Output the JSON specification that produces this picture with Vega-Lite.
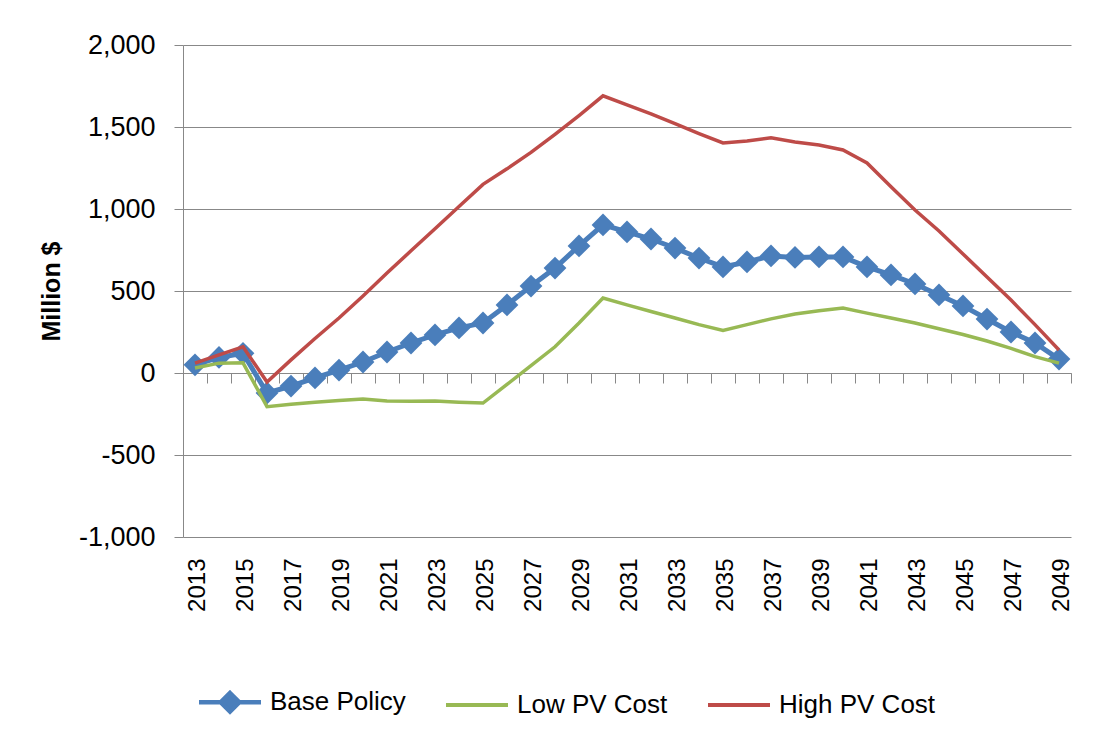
{
  "$schema": "https://vega.github.io/schema/vega-lite/v6.json",
  "width": 888,
  "height": 492,
  "autosize": {"type": "none"},
  "padding": {"left": 183, "top": 45, "right": 30, "bottom": 208},
  "background": "white",
  "config": {
    "font": "Liberation Sans",
    "view": {"stroke": null}
  },
  "data": {
    "values": [
      {"year": 2013, "Base Policy": 50, "Low PV Cost": 30, "High PV Cost": 60},
      {"year": 2014, "Base Policy": 95, "Low PV Cost": 60, "High PV Cost": 110},
      {"year": 2015, "Base Policy": 120, "Low PV Cost": 62, "High PV Cost": 160},
      {"year": 2016, "Base Policy": -122, "Low PV Cost": -205, "High PV Cost": -55},
      {"year": 2017, "Base Policy": -80, "Low PV Cost": -190, "High PV Cost": 80},
      {"year": 2018, "Base Policy": -30, "Low PV Cost": -178, "High PV Cost": 210},
      {"year": 2019, "Base Policy": 18, "Low PV Cost": -168, "High PV Cost": 335},
      {"year": 2020, "Base Policy": 67, "Low PV Cost": -158, "High PV Cost": 470},
      {"year": 2021, "Base Policy": 128, "Low PV Cost": -170, "High PV Cost": 610},
      {"year": 2022, "Base Policy": 183, "Low PV Cost": -172, "High PV Cost": 745},
      {"year": 2023, "Base Policy": 232, "Low PV Cost": -171, "High PV Cost": 880},
      {"year": 2024, "Base Policy": 275, "Low PV Cost": -178, "High PV Cost": 1015},
      {"year": 2025, "Base Policy": 305, "Low PV Cost": -183, "High PV Cost": 1150},
      {"year": 2026, "Base Policy": 415, "Low PV Cost": -70, "High PV Cost": 1245},
      {"year": 2027, "Base Policy": 530, "Low PV Cost": 45, "High PV Cost": 1345},
      {"year": 2028, "Base Policy": 640, "Low PV Cost": 160, "High PV Cost": 1455},
      {"year": 2029, "Base Policy": 775, "Low PV Cost": 305, "High PV Cost": 1570},
      {"year": 2030, "Base Policy": 903, "Low PV Cost": 457, "High PV Cost": 1690},
      {"year": 2031, "Base Policy": 860, "Low PV Cost": 415, "High PV Cost": 1635},
      {"year": 2032, "Base Policy": 817, "Low PV Cost": 375, "High PV Cost": 1580},
      {"year": 2033, "Base Policy": 762, "Low PV Cost": 335, "High PV Cost": 1520},
      {"year": 2034, "Base Policy": 701, "Low PV Cost": 295, "High PV Cost": 1460},
      {"year": 2035, "Base Policy": 647, "Low PV Cost": 260, "High PV Cost": 1403},
      {"year": 2036, "Base Policy": 677, "Low PV Cost": 295, "High PV Cost": 1415},
      {"year": 2037, "Base Policy": 714, "Low PV Cost": 330, "High PV Cost": 1434},
      {"year": 2038, "Base Policy": 705, "Low PV Cost": 360, "High PV Cost": 1409},
      {"year": 2039, "Base Policy": 708, "Low PV Cost": 380, "High PV Cost": 1390},
      {"year": 2040, "Base Policy": 708, "Low PV Cost": 396, "High PV Cost": 1360},
      {"year": 2041, "Base Policy": 647, "Low PV Cost": 365, "High PV Cost": 1281},
      {"year": 2042, "Base Policy": 598, "Low PV Cost": 335, "High PV Cost": 1135},
      {"year": 2043, "Base Policy": 543, "Low PV Cost": 305, "High PV Cost": 994},
      {"year": 2044, "Base Policy": 476, "Low PV Cost": 270, "High PV Cost": 866},
      {"year": 2045, "Base Policy": 409, "Low PV Cost": 235, "High PV Cost": 726},
      {"year": 2046, "Base Policy": 329, "Low PV Cost": 195, "High PV Cost": 585},
      {"year": 2047, "Base Policy": 250, "Low PV Cost": 150, "High PV Cost": 445},
      {"year": 2048, "Base Policy": 183, "Low PV Cost": 100, "High PV Cost": 295},
      {"year": 2049, "Base Policy": 85, "Low PV Cost": 60, "High PV Cost": 140}
    ]
  },
  "transform": [
    {"fold": ["Base Policy", "Low PV Cost", "High PV Cost"], "as": ["series", "value"]}
  ],
  "resolve": {"axis": {"x": "independent"}},
  "encoding": {
    "y": {
      "field": "value", "type": "quantitative",
      "scale": {"domain": [-1000, 2000], "nice": false, "zero": false},
      "axis": {
        "values": [-1000, -500, 0, 500, 1000, 1500, 2000],
        "labelExpr": "replace(format(datum.value, ',.0f'), '\u2212', '-')",
        "grid": true, "gridColor": "#888888", "gridWidth": 1,
        "domainColor": "#888888", "tickColor": "#888888", "tickSize": 9,
        "labelFontSize": 27, "labelColor": "#000000", "labelPadding": 19,
        "title": "Million $", "titleFontSize": 25, "titleFontWeight": "bold",
        "titleColor": "#000000", "titlePadding": 14
      }
    }
  },
  "layer": [
    {
      "transform": [{"filter": "datum.series === 'Base Policy'"}],
      "mark": {"type": "line", "strokeWidth": 5},
      "encoding": {
        "x": {
          "field": "year", "type": "quantitative",
          "scale": {"domain": [2012.5, 2049.5], "nice": false, "zero": false},
          "axis": {
            "orient": "bottom", "title": null,
            "values": [2013, 2015, 2017, 2019, 2021, 2023, 2025, 2027, 2029, 2031, 2033, 2035, 2037, 2039, 2041, 2043, 2045, 2047, 2049],
            "format": "d", "labelAngle": -90, "labelFontSize": 24, "labelColor": "#000000",
            "labelPadding": 21, "labelOffset": 2, "ticks": false, "domain": false, "grid": false,
            "labelFlush": false, "labelOverlap": false
          }
        },
        "color": {
          "field": "series", "type": "nominal",
          "scale": {"domain": ["Base Policy", "Low PV Cost", "High PV Cost"], "range": ["#4A7EBB", "#98B954", "#BE4B48"]},
          "legend": {
            "title": null, "orient": "none", "direction": "horizontal",
            "legendX": 34, "legendY": 644, "padding": 0,
            "symbolType": "stroke", "symbolSize": 3844, "symbolStrokeWidth": 4,
            "labelFontSize": 26, "labelColor": "#000000", "labelOffset": 27, "columnPadding": 32,
            "encode": {
              "symbols": {
                "update": {
                  "shape": {"signal": "datum.value === 'Base Policy' ? 'M-1,0L1,0M0,-0.3L0.3,0L0,0.3L-0.3,0Z' : 'stroke'"},
                  "fill": {"signal": "datum.value === 'Base Policy' ? '#4A7EBB' : 'transparent'"},
                  "strokeWidth": {"signal": "datum.value === 'Base Policy' ? 4.5 : 4"}
                }
              }
            }
          }
        }
      }
    },
    {
      "transform": [{"filter": "datum.series === 'Base Policy'"}],
      "mark": {"type": "point", "shape": "diamond", "size": 520, "filled": true, "color": "#4A7EBB", "opacity": 1},
      "encoding": {
        "x": {"field": "year", "type": "quantitative", "scale": {"domain": [2012.5, 2049.5], "nice": false, "zero": false}, "axis": null}
      }
    },
    {
      "transform": [{"filter": "datum.series !== 'Base Policy'"}],
      "mark": {"type": "line", "strokeWidth": 3.5},
      "encoding": {
        "x": {
          "field": "year", "type": "quantitative",
          "scale": {"domain": [2012.5, 2049.5], "nice": false, "zero": false},
          "axis": {
            "orient": "bottom", "title": null, "offset": -164,
            "values": [2012.5, 2013.5, 2014.5, 2015.5, 2016.5, 2017.5, 2018.5, 2019.5, 2020.5, 2021.5, 2022.5, 2023.5, 2024.5, 2025.5, 2026.5, 2027.5, 2028.5, 2029.5, 2030.5, 2031.5, 2032.5, 2033.5, 2034.5, 2035.5, 2036.5, 2037.5, 2038.5, 2039.5, 2040.5, 2041.5, 2042.5, 2043.5, 2044.5, 2045.5, 2046.5, 2047.5, 2048.5, 2049.5],
            "labels": false, "ticks": true, "tickSize": 10, "tickColor": "#888888",
            "domain": true, "domainColor": "#888888", "grid": false
          }
        },
        "color": {"field": "series", "type": "nominal", "scale": {"domain": ["Base Policy", "Low PV Cost", "High PV Cost"], "range": ["#4A7EBB", "#98B954", "#BE4B48"]}}
      }
    }
  ]
}
